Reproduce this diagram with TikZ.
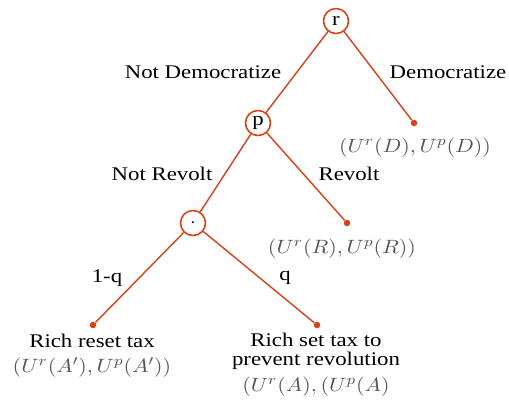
\documentclass[tikz,border=0pt]{standalone}
\usepackage{fontspec}
\usepackage{graphicx}
\setmainfont{Liberation Serif}[FakeStretch=1.18]
\definecolor{treered}{RGB}{217,64,26}
\definecolor{payoff}{RGB}{85,85,85}
\newcommand{\widemath}[1]{\scalebox{1.14}[1]{$#1$}}
\begin{document}
\begin{tikzpicture}[
    decision/.style={draw=treered, line width=0.9pt, circle, minimum size=0.5cm, inner sep=0pt, font=\fontsize{11}{11}\selectfont},
    leaf/.style={circle, fill=treered, minimum size=0.13cm, inner sep=0pt},
    branch/.style={draw=treered, line width=0.8pt},
    lbl/.style={font=\fontsize{11}{11}\selectfont, align=center, inner sep=0pt},
    pay/.style={font=\fontsize{11}{11}\selectfont, text=payoff, align=center, inner sep=0pt},
  ]
    \useasboundingbox (0, 0) rectangle (10.18, -8.1);

    % Узлы решений
    \node[decision] (r) at (6.72, -0.42) {r};
    \node[decision] (p) at (5.16, -2.46) {p};
    \node[decision] (c) at (3.86, -4.46) {$\cdot$};

    % Листья
    \node[leaf] (d) at (8.28, -2.46) {};
    \node[leaf] (v) at (6.94, -4.46) {};
    \node[leaf] (a1) at (1.86, -6.50) {};
    \node[leaf] (a2) at (6.34, -6.50) {};

    % Ветви
    \draw[branch] (r) -- (p);
    \draw[branch] (r) -- (d);
    \draw[branch] (p) -- (c);
    \draw[branch] (p) -- (v);
    \draw[branch] (c) -- (a1);
    \draw[branch] (c) -- (a2);

    % Подписи ветвей
    \node[lbl] (nd) at (4.06, -1.44) {Not Democratize};
    \node[lbl] (de) at (8.96, -1.44) {Democratize};
    \node[lbl] (nr) at (3.24, -3.48) {Not Revolt};
    \node[lbl] (re) at (6.98, -3.48) {Revolt};
    \node[lbl] (pl) at (2.14, -5.56) {1-q};
    \node[lbl] (pr) at (5.70, -5.56) {q};

    % Выигрыши
    \node[pay] (ud) at (8.30, -2.96) {\widemath{(U^r(D), U^p(D))}};
    \node[pay] (ur) at (6.84, -4.98) {\widemath{(U^r(R), U^p(R))}};
    \node[lbl, anchor=base] (t1) at (1.84, -6.94) {Rich reset tax};
    \node[pay, anchor=base] (ua1) at (1.84, -7.44) {\widemath{(U^r(A'), U^p(A'))}};
    \node[lbl, anchor=base] (t2) at (6.32, -6.92) {Rich set tax to};
    \node[lbl, anchor=base] (t3) at (6.32, -7.30) {prevent revolution};
    \node[pay, anchor=base] (ua2) at (6.32, -7.82) {\widemath{(U^r(A), (U^p(A)}};
  \end{tikzpicture}
\end{document}
